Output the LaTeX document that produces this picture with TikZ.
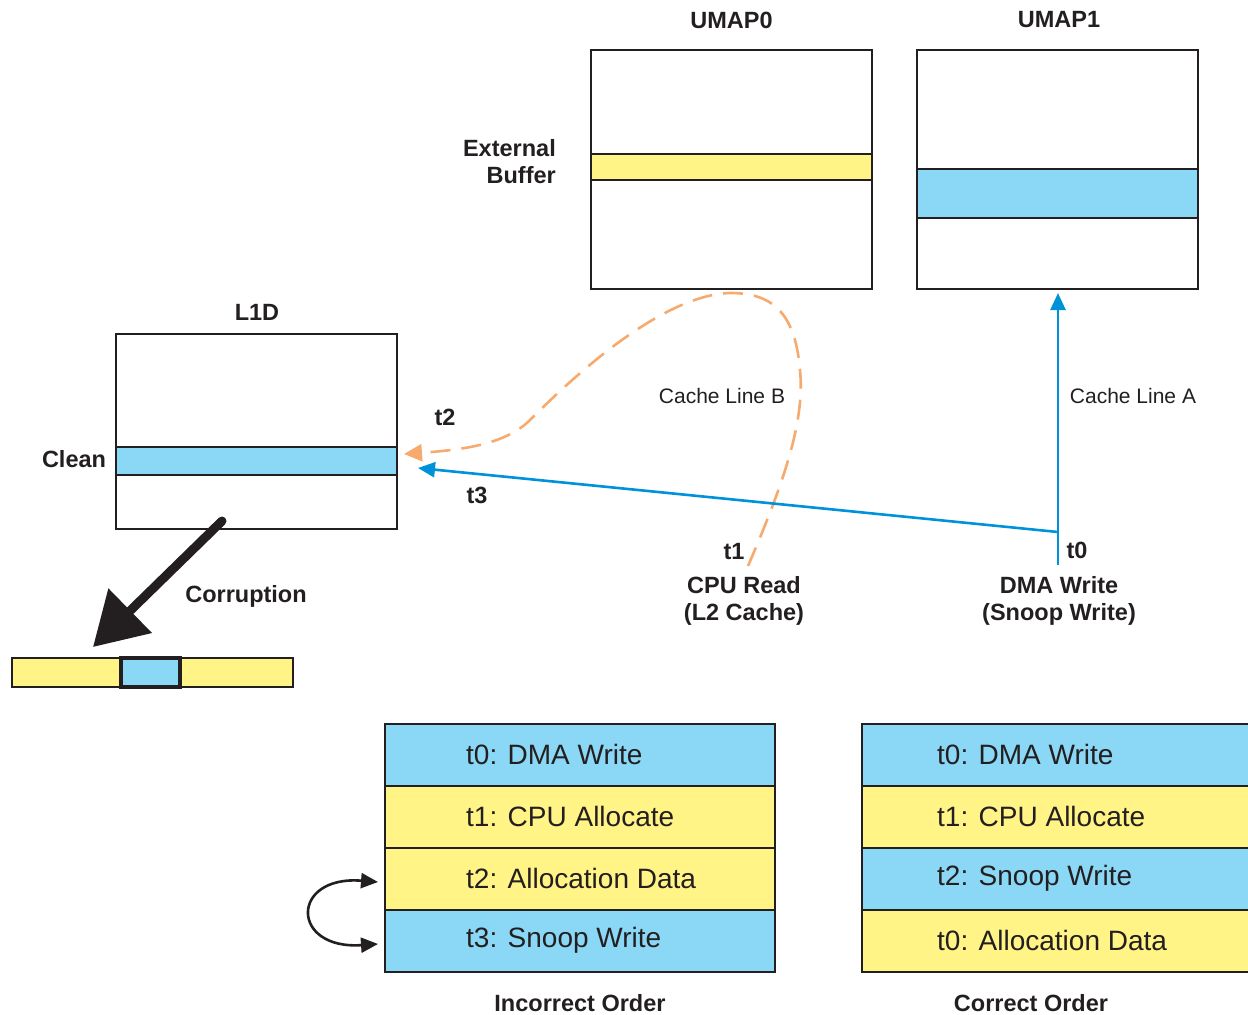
\documentclass[tikz,border=0pt]{standalone}
\usepackage{fontspec}
\setmainfont{Liberation Sans}
\usetikzlibrary{arrows.meta}
\definecolor{ink}{RGB}{35,31,32}
\definecolor{ylw}{RGB}{255,244,133}
\definecolor{blu}{RGB}{138,216,246}
\definecolor{dma}{RGB}{0,146,216}
\definecolor{org}{RGB}{247,170,110}
\tikzset{
  memb/.style={draw=ink, line width=2.8pt, minimum width=281pt, inner sep=0pt, fill=white},
  band/.style={draw=ink, line width=2.8pt, minimum width=281pt, inner sep=0pt},
  rowbox/.style={draw=ink, line width=2.8pt, minimum width=390pt, minimum height=62pt, inner sep=0pt},
  bold/.style={font=\fontsize{23.5}{27}\selectfont\bfseries, text=ink, inner sep=0pt},
  thin/.style={font=\fontsize{21}{24}\selectfont, text=ink, inner sep=0pt},
  rowtxt/.style={font=\fontsize{28}{30}\selectfont, text=ink, inner sep=0pt, anchor=west},
}
\begin{document}
\begin{tikzpicture}[x=1pt,y=-1pt]
\useasboundingbox (0,0) rectangle (1248,1015);
\clip (0,0) rectangle (1248,1015);
% UMAP0
\node[memb, minimum height=239pt] (umap0) at (731.5,169.5) {};
\node[band, fill=ylw, minimum height=26pt] (extbuf) at (731.5,167) {};
\node[bold] (umap0t) at (731.5,20) {UMAP0};
\node[bold, align=right, anchor=east] (extlbl) at (556,162) {External\\Buffer};
% UMAP1
\node[memb, minimum height=239pt] (umap1) at (1057.5,169.5) {};
\node[band, fill=blu, minimum height=49pt] (lineA) at (1057.5,193.5) {};
\node[bold] (umap1t) at (1059,20) {UMAP1};
% L1D
\node[memb, minimum height=195pt] (l1d) at (256.5,431.5) {};
\node[band, fill=blu, minimum height=28pt] (clean) at (256.5,461) {};
\node[bold] (l1dt) at (257,312) {L1D};
\node[bold] (cleant) at (74,459) {Clean};
% corrupted line
\node[band, fill=ylw, minimum height=29pt] (cbar) at (152.5,672.5) {};
\node[draw=ink, line width=4pt, fill=blu, minimum width=59pt, minimum height=29pt, inner sep=0pt] (cblue) at (150.5,672.5) {};
% labels
\node[bold] (t2) at (445,417) {t2};
\node[bold] (t3) at (477,495) {t3};
\node[bold] (t1) at (734,552) {t1};
\node[bold] (t0) at (1077,550) {t0};
\node[bold, align=center] (cpur) at (744,600.5) {CPU Read\\(L2 Cache)};
\node[bold, align=center] (dmaw) at (1059,600.5) {DMA Write\\(Snoop Write)};
\node[thin] (clb) at (722,396) {Cache Line B};
\node[thin] (cla) at (1133,396) {Cache Line A};
\node[bold] (corr) at (246,596) {Corruption};
% coordinates
\coordinate (t1src) at (748,566);
\coordinate (t2tip) at (404,454);
\coordinate (t0src) at (1058,565);
\coordinate (split) at (1058,532);
\coordinate (t3tip) at (418,468);
\coordinate (atip) at (1058,293);
\coordinate (corrsrc) at (222,521);
\coordinate (corrtip) at (93,647);
% orange dashed
\draw[org, line width=2.6pt, dash pattern=on 20pt off 11pt, -{Triangle[length=18pt,width=17pt]}]
  (t1src) .. controls (785,480) and (805,420) .. (800,370)
  .. controls (795,310) and (770,293) .. (730,293)
  .. controls (660,295) and (570,380) .. (530,420)
  .. controls (505,445) and (460,450) .. (t2tip);
% blue
\draw[dma, line width=2.6pt, -{Triangle[length=17pt,width=15pt]}] (t0src) -- (atip);
\draw[dma, line width=2.6pt, -{Triangle[length=17pt,width=15pt]}] (split) -- (t3tip);
% corruption arrow
\draw[ink, line width=9pt, line cap=round, -{Triangle[length=52pt,width=60pt]}] (corrsrc) -- (corrtip);
% tables
\foreach \n/\y/\c in {0/755/blu,1/817/ylw,2/879/ylw,3/941/blu}{
  \node[rowbox, fill=\c] (L\n) at (580,\y) {};
}
\foreach \n/\y/\c in {0/755/blu,1/817/ylw,2/879/blu,3/941/ylw}{
  \node[rowbox, fill=\c] (R\n) at (1057,\y) {};
}
\node[rowtxt] (L0t) at (466,754) {t0: DMA Write};
\node[rowtxt] (L1t) at (466,816) {t1: CPU Allocate};
\node[rowtxt] (L2t) at (466,878) {t2: Allocation Data};
\node[rowtxt] (L3t) at (466,940) {t3: Snoop Write};
\node[rowtxt] (R0t) at (937,754) {t0: DMA Write};
\node[rowtxt] (R1t) at (937,816) {t1: CPU Allocate};
\node[rowtxt] (R2t) at (937,878) {t2: Snoop Write};
\node[rowtxt] (R3t) at (937,940) {t0: Allocation Data};
\node[bold] (inc) at (580,1003) {Incorrect Order};
\node[bold] (cor) at (1031,1003) {Correct Order};
% swap arrow
\coordinate (swA) at (378,882);
\coordinate (swB) at (378,944);
\draw[ink, line width=2.6pt, {Triangle[length=17pt,width=15pt]}-{Triangle[length=17pt,width=15pt]}]
  (swA) .. controls (290,875) and (290,950) .. (swB);
\end{tikzpicture}
\end{document}
